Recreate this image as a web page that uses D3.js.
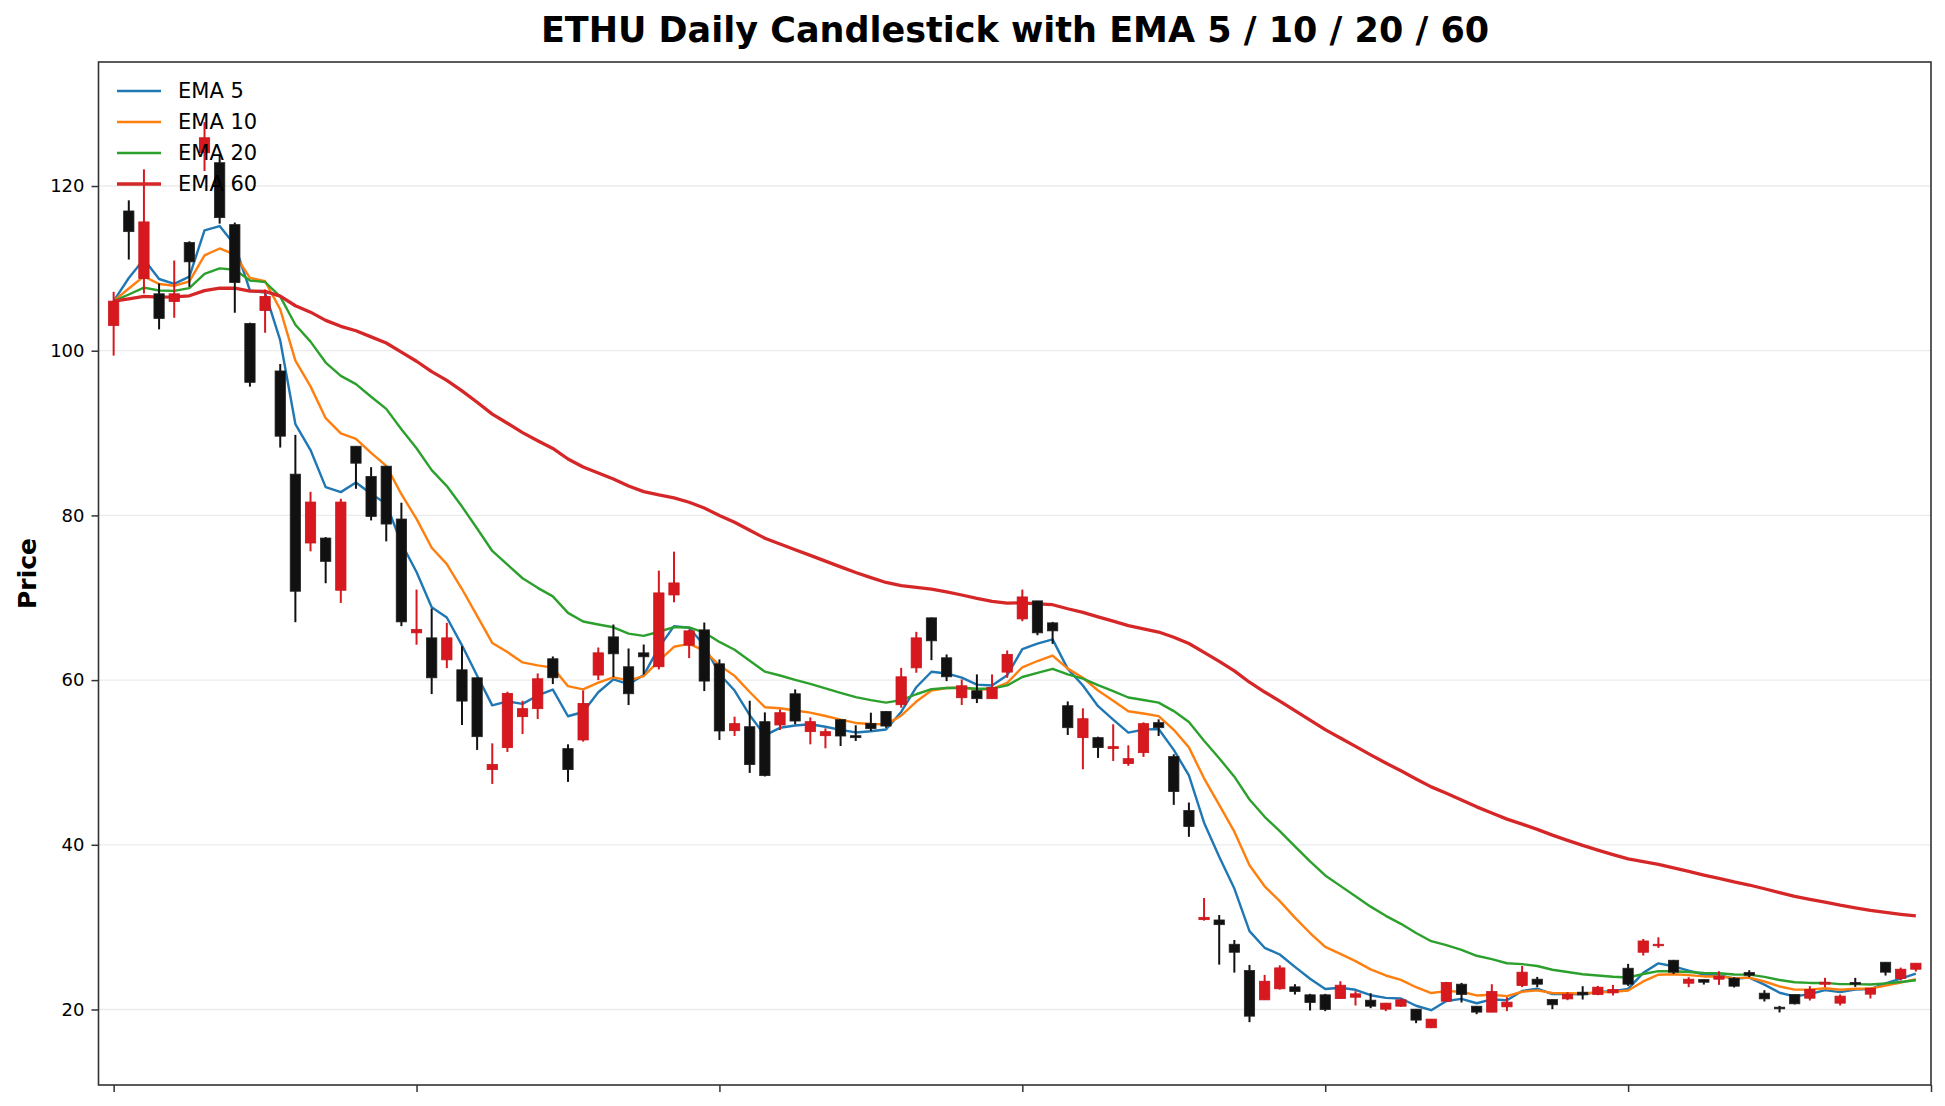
<!DOCTYPE html>
<html lang="en">
<head>
  <meta charset="UTF-8">
  <title>ETHU Daily Candlestick</title>
  <style>
    body { margin: 0; background: #fff; }
    text { font-family: "DejaVu Sans", sans-serif; }
  </style>
</head>
<body>
  <script src="https://cdn.jsdelivr.net/npm/d3@7"></script>
  <script>
    // OHLC, one entry per trading day
    let opens = [103.07, 116.97, 108.77, 106.91, 105.98, 113.13, 124.04, 122.83, 115.31, 103.31,
                 104.89, 97.54, 85.01, 76.65, 77.25, 70.91, 88.40, 84.73, 85.98, 79.56,
                 65.74, 65.13, 62.46, 61.25, 60.28, 49.13, 51.80, 55.56, 56.53, 62.59,
                 51.68, 52.73, 60.61, 65.25, 61.62, 63.31, 61.62, 70.34, 64.24, 66.10,
                 61.98, 53.86, 54.34, 54.95, 54.55, 58.34, 53.74, 53.25, 55.19, 53.25,
                 54.75, 56.20, 57.01, 61.49, 67.56, 62.71, 57.86, 58.71, 57.74, 60.97,
                 67.43, 69.62, 66.95, 56.89, 53.01, 53.01, 51.68, 49.86, 51.19, 54.83,
                 50.71, 44.16, 30.91, 30.87, 27.92, 24.73, 21.17, 22.51, 22.75, 21.78,
                 21.78, 21.33, 21.49, 21.13, 20.04, 20.40, 20.04, 17.78, 21.01, 23.07,
                 20.40, 19.68, 20.32, 22.91, 23.68, 21.21, 21.29, 22.10, 21.82, 22.02,
                 25.01, 26.95, 27.80, 25.98, 23.19, 23.64, 23.68, 23.80, 24.48, 21.98,
                 20.28, 21.82, 21.37, 23.07, 20.77, 23.27, 21.86, 25.74, 23.76, 24.89];
    let highs = [107.15, 118.26, 122.02, 108.16, 110.95, 113.29, 127.76, 123.72, 115.56, 103.40,
                 107.43, 98.38, 89.78, 82.87, 77.37, 82.02, 88.40, 85.86, 86.00, 81.54,
                 70.99, 68.69, 66.95, 64.12, 60.30, 52.32, 58.59, 57.49, 60.81, 62.87,
                 52.20, 58.75, 63.96, 66.75, 63.84, 64.32, 73.29, 75.60, 66.14, 66.99,
                 62.51, 55.56, 57.49, 56.08, 56.44, 58.87, 55.47, 54.14, 55.20, 54.51,
                 56.04, 56.20, 61.49, 65.86, 67.60, 63.11, 60.08, 60.69, 60.69, 63.60,
                 70.99, 69.62, 67.07, 57.41, 56.57, 53.13, 54.63, 52.08, 54.87, 55.23,
                 50.99, 45.13, 33.54, 31.47, 28.44, 25.41, 24.20, 25.37, 23.07, 21.90,
                 21.90, 23.43, 22.22, 21.98, 20.80, 21.33, 20.04, 18.83, 23.35, 23.23,
                 20.40, 23.07, 21.49, 25.29, 23.96, 21.21, 22.10, 22.83, 22.87, 22.99,
                 25.54, 28.57, 28.77, 26.02, 23.92, 23.64, 24.65, 23.92, 24.77, 22.34,
                 20.44, 21.82, 22.83, 23.84, 21.82, 23.84, 22.60, 25.74, 25.09, 25.62];
    let lows = [99.40, 111.07, 106.95, 102.59, 104.00, 107.76, 121.82, 115.43, 104.61, 95.64,
                102.18, 88.24, 67.03, 75.64, 71.76, 69.37, 83.23, 79.39, 76.85, 66.55,
                64.30, 58.30, 61.45, 54.55, 51.52, 47.39, 51.27, 53.45, 55.27, 59.52,
                47.64, 52.53, 60.00, 60.36, 56.97, 60.69, 61.29, 69.45, 62.67, 58.67,
                52.73, 53.21, 48.73, 48.30, 53.94, 54.63, 52.20, 51.72, 52.00, 52.61,
                53.82, 54.22, 56.65, 60.89, 62.42, 59.88, 56.97, 57.21, 57.74, 60.28,
                67.15, 65.45, 64.40, 53.33, 49.17, 50.55, 50.18, 49.58, 50.67, 53.21,
                44.85, 40.97, 30.79, 25.45, 24.48, 18.46, 21.17, 22.42, 21.82, 19.88,
                19.80, 21.33, 20.48, 20.16, 19.80, 20.32, 18.34, 17.74, 21.01, 20.85,
                19.43, 19.68, 19.80, 22.71, 22.71, 20.04, 21.13, 21.21, 21.74, 21.70,
                22.87, 26.55, 27.47, 24.32, 22.71, 23.03, 22.99, 22.67, 23.92, 20.97,
                19.64, 20.61, 21.09, 22.71, 20.48, 22.75, 21.33, 24.12, 23.52, 24.61];
    let closes = [106.02, 114.46, 115.64, 103.92, 106.91, 110.79, 125.86, 116.16, 108.28, 96.16,
                  106.59, 89.62, 70.79, 81.62, 74.42, 81.62, 86.34, 79.88, 78.95, 67.07,
                  66.14, 60.28, 65.13, 57.45, 53.13, 49.74, 58.38, 56.53, 60.16, 60.28,
                  49.13, 57.17, 63.31, 63.19, 58.34, 62.83, 70.59, 71.80, 65.98, 59.88,
                  53.82, 54.71, 49.74, 48.40, 56.04, 55.03, 54.95, 53.74, 53.21, 53.01,
                  54.10, 54.42, 60.40, 65.13, 64.77, 60.40, 59.31, 57.74, 59.11, 63.11,
                  70.10, 65.74, 65.98, 54.22, 55.31, 51.80, 51.92, 50.46, 54.71, 54.22,
                  46.46, 42.22, 31.19, 30.30, 26.95, 19.19, 23.43, 25.05, 22.18, 20.85,
                  20.00, 22.95, 21.90, 20.40, 20.77, 21.17, 18.71, 18.83, 23.27, 21.82,
                  19.68, 22.18, 20.89, 24.53, 23.07, 20.57, 21.86, 21.78, 22.71, 22.42,
                  23.07, 28.32, 27.92, 24.53, 23.68, 23.31, 24.04, 22.83, 24.16, 21.29,
                  20.08, 20.69, 22.42, 23.31, 21.62, 23.07, 22.59, 24.53, 24.89, 25.62];

    let emaPeriods = [5, 10, 20, 60];
    let emaColors = ['#1f77b4', '#ff7f0e', '#2ca02c', '#d62728'];
    let yTicks = [20, 40, 60, 80, 100, 120];
    let xTicks = [0, 20, 40, 60, 80, 100, 120];

    let width = 1945;
    let height = 1106;
    let plotLeft = 98.5, plotRight = 1931, plotTop = 62, plotBottom = 1085;

    let svg = d3.select('body')
                .append('svg')
                .attr('width', width)
                .attr('height', height);

    let x = d3.scaleLinear().domain([-1, 120]).range([plotLeft, plotRight]);
    let y = d3.scaleLinear().domain([10.83, 135.06]).range([plotBottom, plotTop]);

    // exponential moving average, seeded with the first close
    function ema(values, n) {
      let k = 2 / (n + 1);
      let out = [values[0]];
      for (let i = 1; i < values.length; i++) {
        out.push(k * values[i] + (1 - k) * out[i - 1]);
      }
      return out;
    }

    // grid
    svg.append('g')
       .selectAll('line')
       .data(yTicks)
       .enter()
       .append('line')
       .attr('x1', plotLeft)
       .attr('x2', plotRight)
       .attr('y1', d => y(d))
       .attr('y2', d => y(d))
       .attr('stroke', '#ebebeb')
       .attr('stroke-width', 1.3);

    // EMA lines
    let line = d3.line()
                 .x((d, i) => x(i))
                 .y(d => y(d));
    emaPeriods.forEach(function(n, j) {
      svg.append('path')
         .attr('d', line(ema(closes, n)))
         .attr('fill', 'none')
         .attr('stroke', emaColors[j])
         .attr('stroke-width', n === 60 ? 3.3 : 2.4)
         .attr('stroke-linejoin', 'round');
    });

    // candles
    let upColor = '#d7191f';
    let downColor = '#111111';
    let bw = (x(1) - x(0)) * 0.68;
    let idx = d3.range(closes.length);
    let candles = svg.append('g');
    candles.selectAll('line')
           .data(idx)
           .enter()
           .append('line')
           .attr('x1', i => x(i))
           .attr('x2', i => x(i))
           .attr('y1', i => y(highs[i]))
           .attr('y2', i => y(lows[i]))
           .attr('stroke', i => closes[i] >= opens[i] ? upColor : downColor)
           .attr('stroke-width', 2);
    candles.selectAll('rect')
           .data(idx)
           .enter()
           .append('rect')
           .attr('x', i => x(i) - bw / 2)
           .attr('y', i => y(Math.max(opens[i], closes[i])))
           .attr('width', bw)
           .attr('height', i => Math.max(1.5, Math.abs(y(opens[i]) - y(closes[i]))))
           .attr('fill', i => closes[i] >= opens[i] ? upColor : downColor)
           .attr('stroke', i => closes[i] >= opens[i] ? '#c8161c' : '#222')
           .attr('stroke-width', 0.8);

    // axes
    let yAxis = d3.axisLeft(y).tickValues(yTicks).tickSize(7).tickPadding(7);
    let gy = svg.append('g')
                .attr('transform', 'translate(' + plotLeft + ',0)')
                .call(yAxis);
    gy.select('.domain').remove();
    gy.selectAll('.tick line').attr('stroke', '#333').attr('stroke-width', 1.5);
    gy.selectAll('.tick text')
      .attr('font-size', 18)
      .attr('font-family', 'DejaVu Sans')
      .attr('fill', '#000');

    let xAxis = d3.axisBottom(x).tickValues(xTicks).tickSize(7).tickFormat('');
    let gx = svg.append('g')
                .attr('transform', 'translate(0,' + plotBottom + ')')
                .call(xAxis);
    gx.select('.domain').remove();
    gx.selectAll('.tick line').attr('stroke', '#333').attr('stroke-width', 1.5);

    // frame
    svg.append('rect')
       .attr('x', plotLeft)
       .attr('y', plotTop)
       .attr('width', plotRight - plotLeft)
       .attr('height', plotBottom - plotTop)
       .attr('fill', 'none')
       .attr('stroke', '#333')
       .attr('stroke-width', 1.6);

    // title and label
    svg.append('text')
       .attr('x', 1015)
       .attr('y', 42)
       .attr('text-anchor', 'middle')
       .attr('font-size', 35)
       .attr('font-weight', 'bold')
       .text('ETHU Daily Candlestick with EMA 5 / 10 / 20 / 60');

    svg.append('text')
       .attr('transform', 'translate(36,' + (plotTop + plotBottom) / 2 + ') rotate(-90)')
       .attr('text-anchor', 'middle')
       .attr('font-size', 25)
       .attr('font-weight', 'bold')
       .text('Price');

    // legend
    let legend = svg.append('g');
    emaPeriods.forEach(function(n, j) {
      let ly = 91 + j * 31;
      legend.append('line')
            .attr('x1', 117)
            .attr('x2', 161)
            .attr('y1', ly)
            .attr('y2', ly)
            .attr('stroke', emaColors[j])
            .attr('stroke-width', n === 60 ? 3.6 : 2.6);
      legend.append('text')
            .attr('x', 178)
            .attr('y', ly)
            .attr('dy', '0.35em')
            .attr('font-size', 21)
            .text('EMA ' + n);
    });
  </script>
</body>
</html>
